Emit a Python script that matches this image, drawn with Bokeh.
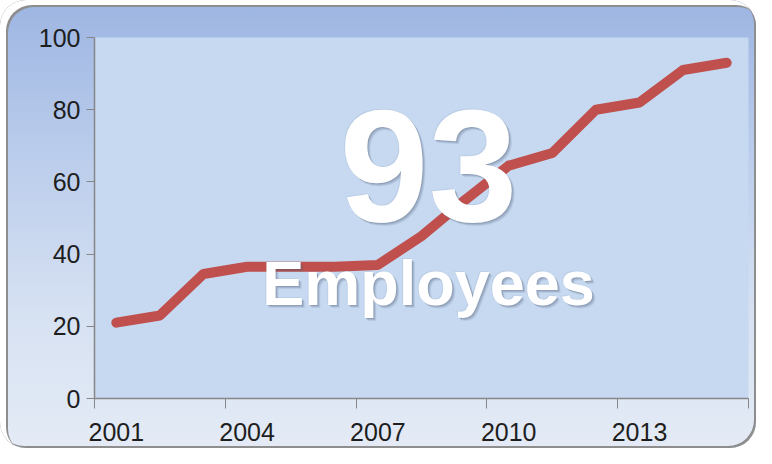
from bokeh.plotting import figure
from bokeh.models import Range1d, FixedTicker, Label, ColumnDataSource
from bokeh.embed import file_html
from bokeh.resources import INLINE

years = [2001, 2002, 2003, 2004, 2005, 2006, 2007, 2008, 2009, 2010, 2011, 2012, 2013, 2014, 2015]
employees = [21, 23, 34.5, 36.5, 36.5, 36.5, 37, 45, 55, 64.5, 68, 80, 82, 91, 93]
x_tick_labels = [2001, 2004, 2007, 2010, 2013]
x_boundaries = [2000.5, 2003.5, 2006.5, 2009.5, 2012.5, 2015.5]
y_ticks = [0, 20, 40, 60, 80, 100]
big_number = "93"
big_caption = "Employees"

src = ColumnDataSource(dict(x=years, y=employees))

p = figure(width=756, height=448, output_backend="svg", toolbar_location=None,
           x_range=Range1d(2000.5, 2015.5), y_range=Range1d(0, 100),
           min_border_left=94, min_border_right=8, min_border_top=37, min_border_bottom=50)

p.styles = {
    "background": "linear-gradient(to bottom, #9DB5E2 0%, #BBCDEC 35%, #D6E1F2 70%, #E4EBF6 100%)",
    "border-radius": "26px",
    "box-shadow": "inset 6px 5px 0 0 #FFFFFF, inset 8px 7px 0 0 #8E8E8E, inset -2px -2px 0 0 #8E8E8E",
}
p.border_fill_alpha = 0
p.background_fill_color = "#C6D9F1"
p.outline_line_color = None
p.xgrid.visible = False
p.ygrid.visible = False

p.line("x", "y", source=src, line_color="#C0504D", line_width=10,
       line_join="round", line_cap="round")

axis_color = "#868686"
label_color = "#1E1E1E"
for ax in (p.xaxis[0], p.yaxis[0]):
    ax.axis_line_color = axis_color
    ax.axis_line_width = 1.5
    ax.major_tick_line_color = axis_color
    ax.minor_tick_line_color = axis_color
    ax.major_tick_in = 0
    ax.minor_tick_in = 0
    ax.major_label_text_font = "Liberation Sans"
    ax.major_label_text_font_size = "25px"
    ax.major_label_text_color = label_color

p.xaxis.ticker = FixedTicker(ticks=x_tick_labels, minor_ticks=x_boundaries)
p.xaxis.major_tick_out = 0
p.xaxis.minor_tick_out = 10
p.xaxis.major_label_standoff = 14

p.yaxis.ticker = FixedTicker(ticks=y_ticks, minor_ticks=[])
p.yaxis.major_tick_out = 8
p.yaxis.minor_tick_out = 0
p.yaxis.major_label_standoff = 6

cx = 2008.16
num_y = 64.5
cap_y = 31.9
for (dx, dy, a) in [(3, -3, 0.12), (2, -2, 0.18), (1, -1, 0.22), (-1, 1, 0.08)]:
    p.add_layout(Label(x=cx, y=num_y, text=big_number, x_offset=dx, y_offset=dy,
                       text_align="center", text_baseline="alphabetic",
                       text_font="Liberation Sans", text_font_style="bold",
                       text_font_size="160px", text_color="#4A5A70", text_alpha=a))
    p.add_layout(Label(x=cx, y=cap_y, text=big_caption, x_offset=dx, y_offset=dy,
                       text_align="center", text_baseline="alphabetic",
                       text_font="Liberation Sans", text_font_style="bold",
                       text_font_size="63px", text_color="#4A5A70", text_alpha=a))
p.add_layout(Label(x=cx, y=num_y, text=big_number,
                   text_align="center", text_baseline="alphabetic",
                   text_font="Liberation Sans", text_font_style="bold",
                   text_font_size="160px", text_color="white"))
p.add_layout(Label(x=cx, y=cap_y, text=big_caption,
                   text_align="center", text_baseline="alphabetic",
                   text_font="Liberation Sans", text_font_style="bold",
                   text_font_size="63px", text_color="white"))

open("out.html", "w").write(file_html(p, INLINE))
